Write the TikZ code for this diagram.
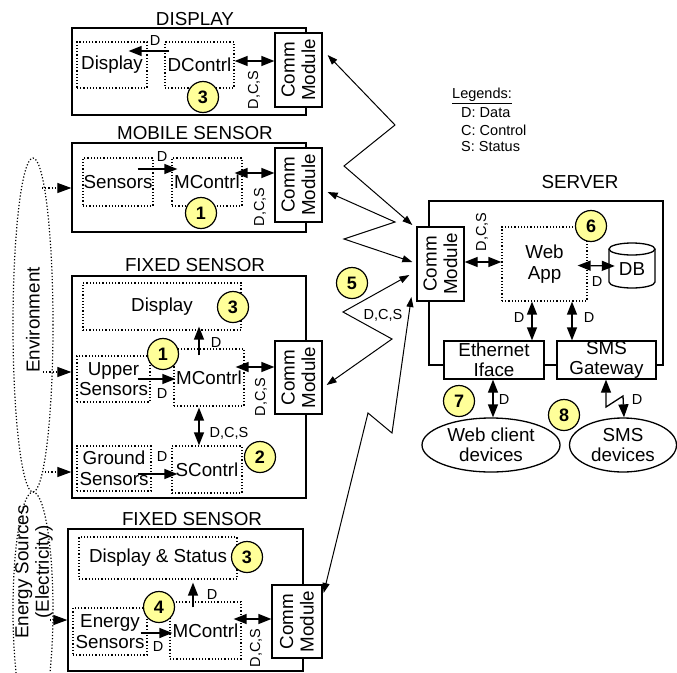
\documentclass[tikz,border=0pt]{standalone}
\usepackage{fontspec}
\setmainfont{Liberation Sans}
\usetikzlibrary{arrows.meta,shapes.geometric}
\definecolor{numyellow}{RGB}{255,255,153}
\newcommand\mainf{\fontsize{18.8}{20.5}\selectfont}
\newcommand\lblf{\fontsize{14.5}{16}\selectfont}
\newcommand\numf{\fontsize{18}{18}\selectfont\bfseries}
\tikzset{
 solidbox/.style={draw, line width=1.3pt, inner sep=0pt},
 dotbox/.style={draw, dotted, line width=1.2pt, inner sep=0pt, font=\mainf, align=center},
 commbox/.style={draw, line width=1.3pt, fill=white, inner sep=0pt},
 commtext/.style={rotate=90, font=\mainf, align=center, inner sep=0pt},
 titletext/.style={font=\mainf, inner sep=0pt},
 lbl/.style={font=\lblf, inner sep=0pt},
 numc/.style={circle, draw, line width=1.2pt, fill=numyellow, minimum size=31pt, inner sep=0pt, font=\numf},
 arr/.style={line width=1.3pt, -{Triangle[length=13pt,width=10pt]}},
 darr/.style={line width=1.3pt, {Triangle[length=13pt,width=10pt]}-{Triangle[length=13pt,width=10pt]}},
 warr/.style={line width=1pt, line join=miter, {Triangle[length=10pt,width=7pt]}-{Triangle[length=10pt,width=7pt]}},
 envarr/.style={line width=1.2pt, dotted, -{Triangle[length=14pt,width=10pt]}},
 srcell/.style={draw, dotted, line width=1.2pt, ellipse, inner sep=0pt},
 dev/.style={draw, ellipse, line width=1.3pt, fill=white, inner sep=0pt, font=\mainf, align=center},
 iface/.style={draw, line width=1.3pt, fill=white, inner sep=0pt, font=\mainf, align=center},
}
\begin{document}
\begin{tikzpicture}[x=1pt,y=-1pt]
\useasboundingbox (0,0) rectangle (677,672);
\clip (0,0) rectangle (677,672);

% ---------- source ellipses ----------
\node[srcell, minimum width=40pt, minimum height=334pt] (env) at (33,325) {};
\node[commtext] (envtxt) at (33,320) {Environment};
\node[srcell, minimum width=40pt, minimum height=236pt] (energy) at (33,610) {};
\node[commtext] (energytxt) at (34,572) {Energy Sources\\(Electricity)};

% ---------- DISPLAY ----------
\node[titletext] (disptitle) at (195,19) {DISPLAY};
\node[solidbox, minimum width=234pt, minimum height=87pt] (dispbox) at (189,71.5) {};
\node[dotbox, minimum width=70pt, minimum height=46pt] (dispin) at (112,65) {Display};
\node[dotbox, minimum width=69pt, minimum height=46pt] (dctrl) at (199.5,65) {DContrl};
\node[commbox, minimum width=47pt, minimum height=74pt] (comm1) at (298.5,70) {};
\node[commtext] (comm1t) at (comm1) {Comm\\Module};
\draw[arr] ([xshift=5pt,yshift=14pt]dctrl.west) -- ([xshift=-19pt,yshift=14pt]dispin.east);
\draw[darr] ([yshift=4pt]dctrl.east) -- ([yshift=9pt]comm1.west);
\node[lbl] (l1) at (155,41) {D};
\node[lbl, rotate=90] (l2) at (254,90) {D,C,S};
\node[numc] (n3a) at (203,97) {3};

% ---------- MOBILE SENSOR ----------
\node[titletext] (mobtitle) at (195,133) {MOBILE SENSOR};
\node[solidbox, minimum width=234pt, minimum height=89pt] (mobbox) at (189,187.5) {};
\node[dotbox, minimum width=70pt, minimum height=48pt] (msens) at (118,182) {Sensors};
\node[dotbox, minimum width=70pt, minimum height=48pt] (mctrl1) at (207,182) {MContrl};
\node[commbox, minimum width=47pt, minimum height=74pt] (comm2) at (298.5,185) {};
\node[commtext] (comm2t) at (comm2) {Comm\\Module};
\draw[arr] ([xshift=-16pt,yshift=13pt]msens.east) -- ([xshift=6pt,yshift=13pt]mctrl1.west);
\draw[darr] ([xshift=-8pt,yshift=9pt]mctrl1.east) -- ([yshift=12pt]comm2.west);
\node[lbl] (l3) at (162,157) {D};
\node[lbl, rotate=90] (l4) at (260,207) {D,C,S};
\node[numc] (n1a) at (201,213) {1};
\coordinate (e1) at (42,188);
\draw[envarr] (e1) -- ([yshift=-0.5pt]mobbox.west);

% ---------- FIXED SENSOR 1 ----------
\node[titletext] (fs1title) at (195,265) {FIXED SENSOR};
\node[solidbox, minimum width=234pt, minimum height=222pt] (fs1box) at (189,387) {};
\node[dotbox, minimum width=158pt, minimum height=47pt] (fs1disp) at (162,306.5) {Display};
\node[dotbox, minimum width=73pt, minimum height=46pt] (usens) at (113.5,379) {Upper\\Sensors};
\node[dotbox, minimum width=70pt, minimum height=57pt] (mctrl2) at (209,377.5) {MContrl};
\node[dotbox, minimum width=74pt, minimum height=45pt] (gsens) at (114,468.5) {Ground\\Sensors};
\node[dotbox, minimum width=70pt, minimum height=47pt] (sctrl) at (207,469.5) {SContrl};
\node[commbox, minimum width=47pt, minimum height=73pt] (comm3) at (298.5,377.5) {};
\node[commtext] (comm3t) at (comm3) {Comm\\Module};
\draw[arr] ([xshift=-10pt,yshift=-7pt]mctrl2.north) -- ([xshift=37pt,yshift=4pt]fs1disp.south);
\draw[arr] ([xshift=-13pt]usens.east) -- ([xshift=2pt,yshift=-1.5pt]mctrl2.west);
\draw[darr] ([xshift=-9pt,yshift=10.5pt]mctrl2.east) -- ([yshift=10.5pt]comm3.west);
\draw[darr] ([xshift=-10pt,yshift=-1pt]mctrl2.south) -- ([xshift=-8pt]sctrl.north);
\draw[arr] ([xshift=-14pt,yshift=-5.5pt]gsens.east) -- ([xshift=6pt,yshift=-4.5pt]sctrl.west);
\node[lbl] (l5) at (216,343) {D};
\node[lbl] (l6) at (162,394) {D};
\node[lbl, rotate=90] (l7) at (261,397) {D,C,S};
\node[lbl] (l8) at (229,433) {D,C,S};
\node[lbl] (l9) at (162,457) {D};
\node[numc] (n3b) at (233,307) {3};
\node[numc] (n1b) at (163,354) {1};
\node[numc] (n2) at (260,457) {2};
\coordinate (e2) at (43,372);
\coordinate (e3) at (45,472);
\draw[envarr] (e2) -- ([yshift=15pt]fs1box.west);
\draw[envarr] (e3) -- ([yshift=-85pt]fs1box.west);

% ---------- FIXED SENSOR 2 ----------
\node[titletext] (fs2title) at (192,519) {FIXED SENSOR};
\node[solidbox, minimum width=235pt, minimum height=142pt] (fs2box) at (185.5,600) {};
\node[dotbox, minimum width=158pt, minimum height=42pt] (fs2disp) at (158,558) {Display \& Status};
\node[dotbox, minimum width=74pt, minimum height=47pt] (esens) at (110,631.5) {Energy\\Sensors};
\node[dotbox, minimum width=71pt, minimum height=57pt] (mctrl3) at (205.5,630.5) {MContrl};
\node[commbox, minimum width=50pt, minimum height=73pt] (comm4) at (297,621.5) {};
\node[commtext] (comm4t) at (comm4) {Comm\\Module};
\draw[arr] ([xshift=-12.5pt,yshift=-6pt]mctrl3.north) -- ([xshift=35pt,yshift=-3pt]fs2disp.south);
\draw[arr] ([xshift=-7pt,yshift=-1.5pt]esens.east) -- ([xshift=3pt,yshift=-2.5pt]mctrl3.west);
\draw[darr] ([xshift=-8pt,yshift=11.5pt]mctrl3.east) -- ([yshift=2.5pt]comm4.west);
\node[lbl] (l10) at (212,595) {D};
\node[lbl] (l11) at (158,647) {D};
\node[lbl, rotate=90] (l12) at (256,648) {D,C,S};
\node[numc] (n3c) at (247,557) {3};
\node[numc] (n4) at (159,607) {4};
\coordinate (e4) at (50,620);
\draw[envarr] (e4) -- ([yshift=-20pt]fs2box.west);

% ---------- SERVER ----------
\node[titletext] (srvtitle) at (580,182) {SERVER};
\node[solidbox, minimum width=234pt, minimum height=164pt] (srvbox) at (546,283) {};
\node[commbox, minimum width=47pt, minimum height=74pt] (comm5) at (440.5,264) {};
\node[commtext] (comm5t) at (comm5) {Comm\\Module};
\node[dotbox, minimum width=85pt, minimum height=74pt] (webapp) at (544.5,264) {Web\\App};
\draw[line width=1.3pt, fill=white] (609,249) -- (609,282) arc[start angle=180, end angle=360, x radius=23pt, y radius=6pt] -- (655,249);
\draw[line width=1.3pt, fill=white] (632,249) ellipse[x radius=23pt, y radius=6pt];
\node[inner sep=0pt, minimum width=46pt, minimum height=38pt, font=\mainf] (db) at (632,269) {DB};
\node[iface, minimum width=100pt, minimum height=38pt] (eth) at (494,360) {Ethernet\\Iface};
\node[iface, minimum width=99pt, minimum height=38pt] (sms) at (606.5,360) {SMS\\Gateway};
\node[dev, minimum width=138pt, minimum height=54pt] (wc) at (491,445) {Web client\\devices};
\node[dev, minimum width=107pt, minimum height=54pt] (smsdev) at (623,445) {SMS\\devices};
\draw[darr] ([yshift=2pt]comm5.east) -- ([yshift=2pt]webapp.west);
\draw[darr] ([xshift=-10pt,yshift=-1.5pt]webapp.east) -- ([xshift=6pt,yshift=3pt]db.west);
\draw[darr] ([xshift=-12.5pt]webapp.south) -- ([xshift=38pt]eth.north);
\draw[darr] ([xshift=27.5pt]webapp.south) -- ([xshift=-34.5pt]sms.north);
\draw[darr] ([xshift=-1pt]eth.south) -- ([xshift=2pt]wc.north);
\draw[darr, line join=miter] ([xshift=-0.5pt]sms.south) -- (606,407) -- (623,396) -- ([xshift=1pt]smsdev.north);
\node[lbl, rotate=90] (l13) at (482,232) {D,C,S};
\node[lbl] (l14) at (597,282) {D};
\node[lbl] (l15) at (519,318) {D};
\node[lbl] (l16) at (589,318) {D};
\node[lbl] (l17) at (504,400) {D};
\node[lbl] (l18) at (637,400) {D};
\node[numc] (n6) at (591,226) {6};
\node[numc] (n7) at (459,401) {7};
\node[numc] (n8) at (564,415) {8};

% ---------- wireless links ----------
\draw[warr] ([xshift=5pt,yshift=15pt]comm1.east) -- (395,125) -- (344,166) -- ([xshift=-4pt,yshift=39pt]comm5.west);
\draw[warr] ([xshift=5pt,yshift=-7pt]comm2.east) -- (395,222) -- (344,239) -- ([xshift=-4pt,yshift=2pt]comm5.west);
\draw[warr] ([xshift=4pt,yshift=-7.5pt]comm3.east) -- (392,339) -- (343,312) -- ([xshift=-7pt,yshift=-11pt]comm5.west);
\draw[warr] ([xshift=1pt,yshift=28.5pt]comm4.east) -- (368,413) -- (392,433) -- ([xshift=-5pt,yshift=-33pt]comm5.west);
\node[lbl] (l19) at (383,315) {D,C,S};
\node[numc] (n5) at (352,283) {5};

% ---------- legend ----------
\node[lbl, anchor=west] (leg0) at (452,96) {\underline{Legends:}};
\node[lbl, anchor=west] (leg1) at (461,113) {D: Data};
\node[lbl, anchor=west] (leg2) at (461,130) {C: Control};
\node[lbl, anchor=west] (leg3) at (461,147) {S: Status};
\end{tikzpicture}
\end{document}
